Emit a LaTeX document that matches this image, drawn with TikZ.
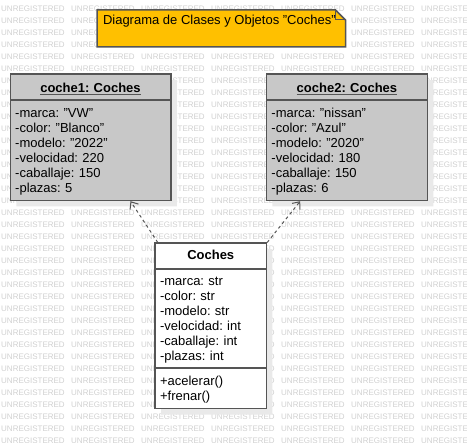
\documentclass[tikz,border=0pt]{standalone}
\usepackage{fontspec}
\setmainfont{Liberation Sans}
\usetikzlibrary{shapes.multipart,shadows,arrows.meta}
\definecolor{objgray}{RGB}{200,200,200}
\definecolor{linegray}{RGB}{85,85,85}
\definecolor{notefill}{RGB}{255,192,0}
\definecolor{shadowgray}{RGB}{233,233,233}
\definecolor{wmgray}{RGB}{208,208,208}
\setlength{\parindent}{0pt}
\frenchspacing
\newcommand{\upstrut}[1]{\rule{0pt}{#1pt}}
\newcommand{\downstrut}[1]{\rule[-#1pt]{0pt}{#1pt}}
\newcommand{\objtitle}[1]{\setbox0\hbox{\bfseries #1}\rlap{\color{linegray}\rule[-3pt]{\wd0}{1.5pt}}\box0}

\begin{document}
\begin{tikzpicture}[x=1pt,y=-1pt,
		umlbox/.style={rectangle split, draw=linegray, line width=1.5pt, inner xsep=5pt, inner ysep=0pt, align=left, font=\fontsize{13}{15}\selectfont, drop shadow={shadow xshift=6pt, shadow yshift=-6pt, fill=shadowgray, opacity=1}},
		objbox/.style={umlbox, rectangle split parts=2, fill=objgray, text width=150.5pt},
		clsbox/.style={umlbox, rectangle split parts=3, fill=white, text width=101.4pt},
		dep/.style={linegray, line width=1pt, dash pattern=on 3pt off 3pt, -{Straight Barb[length=6pt,width=10pt]}},
		wmark/.style={wmgray, font=\fontsize{8}{8}\selectfont, inner sep=0pt, anchor=west}]
			\useasboundingbox (0,0) rectangle (467,443);
			\begin{scope}
				\clip (0,0) rectangle (467,443);
				\foreach \r in {0,...,36} {\foreach \c in {0,...,6} {\node[wmark] (wm-\r-\c) at (70*\c+1,8.5+12*\r) {UNREGISTERED};}}
			\end{scope}
			\coordinate (notenw) at (97,10);
			\coordinate (notese) at (345.5,47);
			\filldraw[fill=notefill, draw=linegray, line width=1.5pt] (notenw) -- ++(238.5,0) -- ++(10,10) -- (notese) -- (notenw |- notese) -- cycle;
			\draw[linegray, line width=1pt] (notenw) ++(238.5,0) -- ++(0,10) -- ++(10,0);
			\node[anchor=north west, inner xsep=6pt, inner ysep=0pt, outer sep=0pt, font=\fontsize{13}{15}\selectfont] (note) at (notenw) {\upstrut{15}Diagrama de Clases y Objetos "Coches"};
			\node[objbox, anchor=north west] (coche1) at (9.5,73.5) {\upstrut{17.5}\hfill\objtitle{coche1: Coches}\hfill\downstrut{7}\nodepart{two}\upstrut{16.5}-marca: "VW"\\-color: "Blanco"\\-modelo: "2022"\\-velocidad: 220\\-caballaje: 150\\-plazas: 5\downstrut{7.2}};
			\node[objbox, anchor=north west, text width=151pt] (coche2) at (265.7,73.5) {\upstrut{17.5}\hfill\objtitle{coche2: Coches}\hfill\downstrut{7}\nodepart{two}\upstrut{16.5}-marca: "nissan"\\-color: "Azul"\\-modelo: "2020"\\-velocidad: 180\\-caballaje: 150\\-plazas: 6\downstrut{7.2}};
			\node[clsbox, anchor=north west] (coches) at (154.3,242.5) {\upstrut{15.8}\hfill\textbf{Coches}\hfill\downstrut{8.7}\nodepart{two}\upstrut{15.3}-marca: str\\-color: str\\-modelo: str\\-velocidad: int\\-caballaje: int\\-plazas: int\downstrut{7.2}\nodepart{three}\upstrut{16.2}+acelerar()\\+frenar()\downstrut{7.6}};
			\draw[dep] ([xshift=3.5pt]coches.north west) -- ([xshift=121pt]coche1.south west);
			\draw[dep] (coches.north east) -- ([xshift=34.5pt]coche2.south west);
		\end{tikzpicture}
\end{document}
